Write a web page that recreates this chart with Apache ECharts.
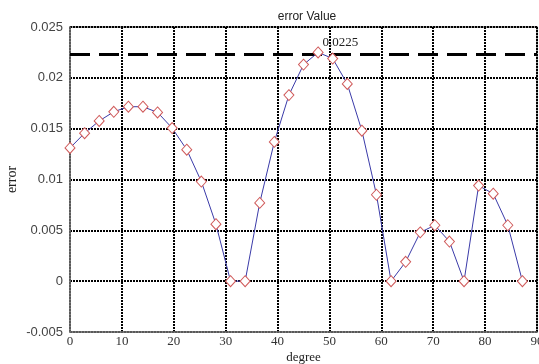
<!DOCTYPE html>
<html><head><meta charset="utf-8">
<script src="https://cdn.jsdelivr.net/npm/echarts@6/dist/echarts.min.js"></script>
<style>html,body{margin:0;padding:0;background:#fff}#c{width:539px;height:364px}</style>
</head><body><div id="c"></div>
<script>
const degrees = [0,2.8125,5.625,8.4375,11.25,14.0625,16.875,19.6875,22.5,25.3125,28.125,30.9375,33.75,36.5625,39.375,42.1875,45,47.8125,50.625,53.4375,56.25,59.0625,61.875,64.6875,67.5,70.3125,73.125,75.9375,78.75,81.5625,84.375,87.1875];
const errors = [0.0131,0.01456,0.01576,0.01666,0.01716,0.01716,0.0166,0.01506,0.01293,0.0098,0.0056,0,0,0.0077,0.0137,0.0183,0.0213,0.0225,0.0219,0.0194,0.0148,0.0085,0,0.0019,0.0048,0.0055,0.0039,0,0.0094,0.0086,0.0055,0];
const thresholdX = [0, 90];
const thresholdY = [0.0223, 0.0223];
const peakLabel = '0.0225';
const peakIndex = 17;
const xTicks = [0,10,20,30,40,50,60,70,80,90];
const yTicks = [-0.005,0,0.005,0.01,0.015,0.02,0.025];
const yTickLabels = ['-0.005','0','0.005','0.01','0.015','0.02','0.025'];

const chart = echarts.init(document.getElementById('c'));
const dotted = {show:true,lineStyle:{color:'#000',type:[2,1],width:2}};
chart.setOption({
  animation:false,
  title:{text:'error Value',left:302,textAlign:'center',top:6,
    textStyle:{fontFamily:'Liberation Sans',fontSize:12,fontWeight:'normal',color:'#222'}},
  grid:{left:70,right:2,top:27,bottom:32,show:true,borderColor:'#777',borderWidth:1.5,
    containLabel:false,outerBoundsMode:'none'},
  xAxis:{type:'value',min:0,max:90,interval:10,name:'degree',nameLocation:'middle',nameGap:19,
    nameMoveOverlap:false,
    nameTextStyle:{fontFamily:'Liberation Serif',fontSize:13,color:'#222'},
    axisLine:{onZero:false,lineStyle:{color:'#777',width:1.5}},axisTick:{show:false},
    axisLabel:{fontFamily:'Liberation Serif',fontSize:13,color:'#333',margin:3,
      formatter:v=>xTicks.includes(v)?String(v):''},
    splitLine:dotted},
  yAxis:{type:'value',min:-0.005,max:0.025,interval:0.005,name:'error',nameLocation:'middle',nameGap:51,
    nameMoveOverlap:false,
    nameTextStyle:{fontFamily:'Liberation Serif',fontSize:14,color:'#222'},
    axisLine:{onZero:false,lineStyle:{color:'#777',width:1.5}},axisTick:{show:false},
    axisLabel:{fontFamily:'Liberation Sans',fontSize:13,color:'#444',margin:7,
      formatter:v=>{const i=yTicks.findIndex(t=>Math.abs(t-v)<1e-9);return i>=0?yTickLabels[i]:'';}},
    splitLine:dotted},
  series:[
    {type:'line',data:thresholdX.map((x,i)=>[x,thresholdY[i]]),symbol:'none',
      lineStyle:{color:'#000',width:3,type:[20,9]},z:3},
    {type:'line',data:degrees.map((d,i)=>{
        const item={value:[d,errors[i]]};
        if(i===peakIndex){item.label={show:true,formatter:peakLabel,position:'right',offset:[-6,-10],
          fontFamily:'Liberation Serif',fontSize:13,color:'#222'};}
        return item;}),
      symbol:'diamond',symbolSize:[10,11],
      itemStyle:{color:'#fff',borderColor:'#d05a5a',borderWidth:1},
      lineStyle:{color:'#3a3aa8',width:1},z:4}
  ]
});
</script></body></html>
